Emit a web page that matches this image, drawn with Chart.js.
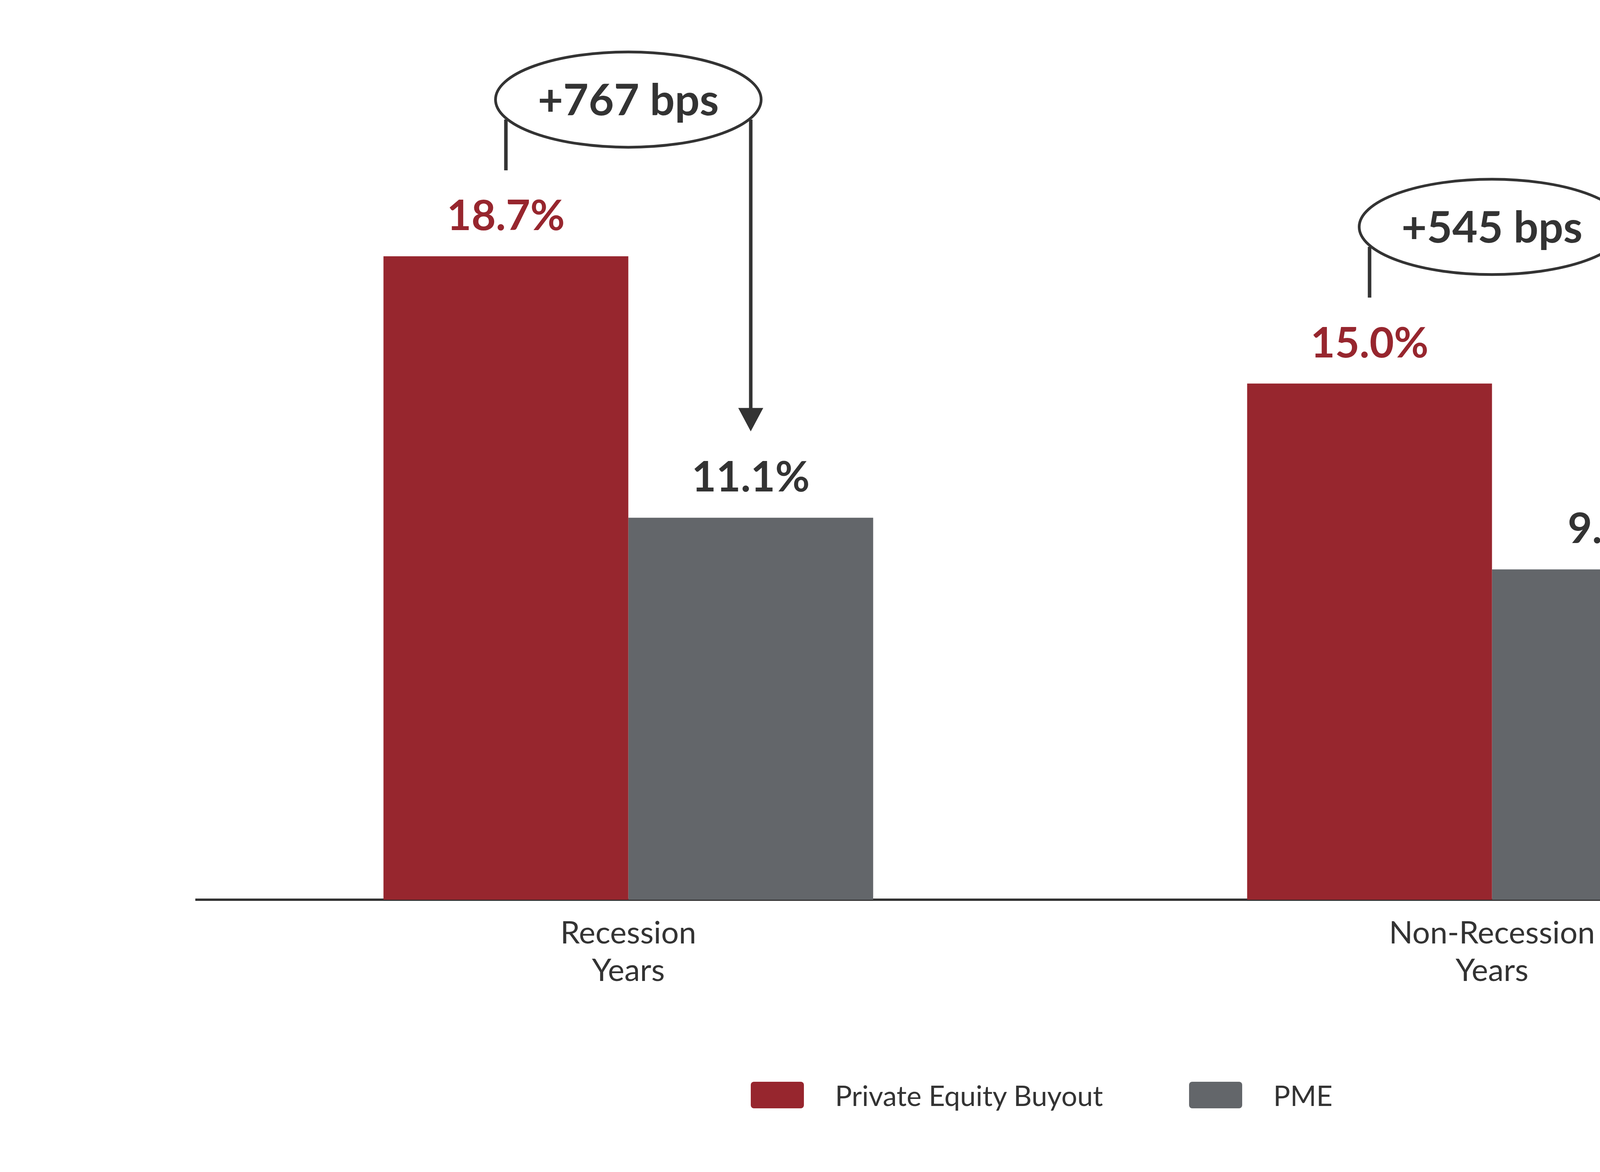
<!DOCTYPE html>
<html>
<head>
<meta charset="utf-8">
<script src="https://cdn.jsdelivr.net/npm/chart.js@4/dist/chart.umd.min.js"></script>
<style>
  html, body { margin: 0; padding: 0; background: #fff; width: 5333px; height: 3000px; overflow: hidden; }
  #wrap { position: relative; width: 5333px; height: 3000px; overflow: hidden; }
  #chart { position: absolute; left: 0; top: 0; width: 5333px !important; height: 3000px !important; }
  #legend { position: absolute; top: 2760px; left: 0; width: 5333px; display: flex; justify-content: center;
            font-family: Lato, sans-serif; font-size: 72px; color: #333; }
  .item { display: flex; align-items: center; margin: 0 110px; }
  .sw { width: 136px; height: 68px; border-radius: 8px; margin-right: 80px; }
</style>
</head>
<body>
<div id="wrap">
  <canvas id="chart" width="5333" height="3000"></canvas>
  <div id="legend"></div>
</div>
<script>
const categories = [['Recession', 'Years'], ['Non-Recession', 'Years']];
const peValues = [18.7, 15.0];
const pmeValues = [11.1, 9.6];
const spreadLabels = ['+767 bps', '+545 bps'];
const seriesNames = ['Private Equity Buyout', 'PME'];
const colors = ['#97262e', '#63666a'];
const labelColors = ['#97262e', '#333333'];

document.getElementById('legend').innerHTML = seriesNames.map((n, i) =>
  `<div class="item"><div class="sw" style="background:${colors[i]}"></div>${n}</div>`).join('');

const annotate = {
  id: 'annotate',
  afterDatasetsDraw(chart) {
    const ctx = chart.ctx;
    const m0 = chart.getDatasetMeta(0), m1 = chart.getDatasetMeta(1);
    ctx.save();
    ctx.textAlign = 'center';
    ctx.textBaseline = 'middle';
    // value labels
    [m0, m1].forEach((meta, d) => {
      meta.data.forEach((bar, i) => {
        const v = chart.data.datasets[d].data[i];
        ctx.fillStyle = labelColors[d];
        ctx.font = 'bold 108px Lato';
        ctx.fillText(v.toFixed(1) + '%', bar.x, bar.y - 102);
      });
    });
    // spread brackets
    m0.data.forEach((red, i) => {
      const grey = m1.data[i];
      const cx = chart.scales.x.getPixelForValue(i);
      const cy = red.y - 401;
      ctx.strokeStyle = '#333';
      ctx.fillStyle = '#333';
      ctx.lineWidth = 9;
      ctx.beginPath();
      ctx.moveTo(red.x, cy + 51);
      ctx.lineTo(red.x, red.y - 220);
      ctx.stroke();
      const tip = grey.y - 221;
      ctx.beginPath();
      ctx.moveTo(grey.x, cy + 51);
      ctx.lineTo(grey.x, tip - 50);
      ctx.stroke();
      ctx.beginPath();
      ctx.moveTo(grey.x - 32, tip - 60);
      ctx.lineTo(grey.x + 32, tip - 60);
      ctx.lineTo(grey.x, tip);
      ctx.closePath();
      ctx.fill();
      ctx.beginPath();
      ctx.ellipse(cx, cy, 340, 122, 0, 0, Math.PI * 2);
      ctx.fillStyle = '#fff';
      ctx.fill();
      ctx.lineWidth = 7;
      ctx.stroke();
      ctx.fillStyle = '#333';
      ctx.font = 'bold 112px Lato';
      ctx.fillText(spreadLabels[i], cx, cy + 4);
    });
    ctx.restore();
  }
};

new Chart(document.getElementById('chart'), {
  type: 'bar',
  data: {
    labels: categories,
    datasets: [
      { label: seriesNames[0], data: peValues, backgroundColor: colors[0] },
      { label: seriesNames[1], data: pmeValues, backgroundColor: colors[1] }
    ]
  },
  options: {
    responsive: false,
    animation: false,
    devicePixelRatio: 1,
    layout: { padding: { top: 101, left: 503, right: 408, bottom: 0 } },
    datasets: { bar: { categoryPercentage: 0.567, barPercentage: 1.0 } },
    plugins: { legend: { display: false }, tooltip: { enabled: false } },
    scales: {
      x: {
        grid: { display: false },
        border: { color: '#333', width: 6 },
        ticks: { color: '#333', font: { family: 'Lato', size: 80 }, padding: 30 },
        afterFit(s) { s.height = 697; }
      },
      y: {
        display: false,
        min: 0,
        max: 25,
        afterFit(s) { s.width = 0; }
      }
    }
  },
  plugins: [annotate]
});
</script>
</body>
</html>
